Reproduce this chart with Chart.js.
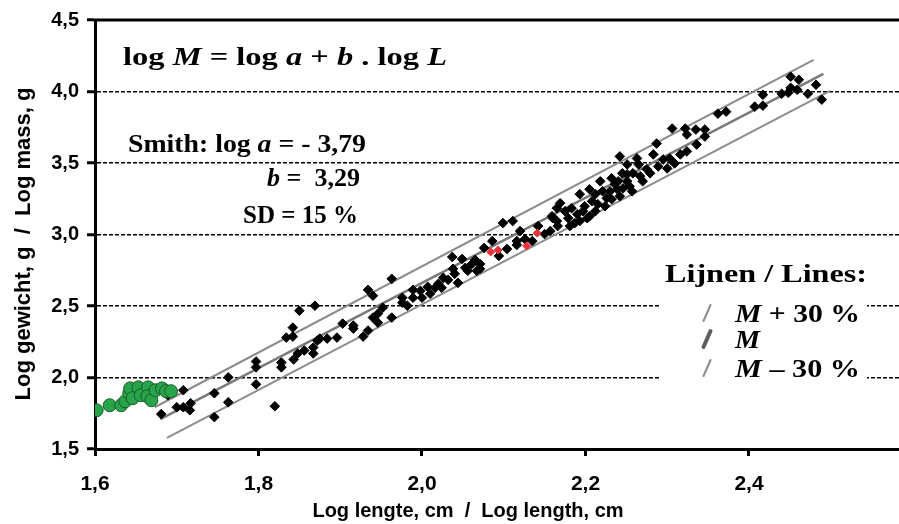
<!DOCTYPE html>
<html>
<head>
<meta charset="utf-8">
<script src="https://cdn.jsdelivr.net/npm/chart.js@4.4.1/dist/chart.umd.min.js"></script>
<style>
  body { margin: 0; background: #fff; }
  #wrap { width: 899px; height: 524px; }
</style>
</head>
<body>
<div id="wrap"><canvas id="chart" width="899" height="524"></canvas></div>
<script>
// log length (cm) / log mass (g)
const fishLength = [1.681,1.689,1.708,1.700,1.708,1.716,1.717,1.746,1.746,1.763,
  1.763,1.797,1.797,1.797,1.820,1.828,1.828,1.834,1.842,1.842,
  1.843,1.850,1.848,1.869,1.856,1.867,1.867,1.872,1.875,1.884,
  1.896,1.903,1.916,1.916,1.928,1.934,1.934,1.940,1.940,1.946,
  1.946,1.952,1.963,1.963,1.976,1.976,1.982,1.989,1.989,2.000,
  2.007,2.016,2.024,2.026,2.032,2.037,2.038,2.040,2.044,2.049,
  2.053,2.056,2.061,2.065,2.067,2.071,2.071,2.086,2.076,2.094,
  2.104,2.099,2.111,2.116,2.116,2.120,2.126,2.135,2.142,2.150,
  2.159,2.165,2.165,2.166,2.169,2.160,2.179,2.183,2.190,2.193,
  2.197,2.202,2.208,2.212,2.215,2.218,2.221,2.226,2.232,2.232,
  2.236,2.242,2.245,2.246,2.251,2.251,2.257,2.258,2.263,2.265,
  2.270,2.275,2.279,2.283,2.287,2.289,2.295,2.300,2.303,2.306,
  2.309,2.316,2.322,2.324,2.324,2.251,2.239,2.193,2.205,2.335,
  2.346,2.346,2.336,2.362,2.372,2.407,2.417,2.417,2.440,2.448,
  2.451,2.451,2.461,2.459,2.472,2.482,2.489,
  2.175,2.187,2.199,2.205,2.224,2.230,2.212,2.242,2.254,2.267,2.157,2.181,2.240,1.998,2.010,2.020];
const fishMass = [1.744,1.876,1.911,1.792,1.792,1.771,1.820,1.890,1.723,2.001,
  1.827,2.112,2.071,1.952,1.799,2.105,2.071,2.279,2.349,2.286,
  2.126,2.467,2.168,2.502,2.189,2.168,2.210,2.259,2.272,2.272,
  2.279,2.377,2.363,2.342,2.286,2.328,2.613,2.572,2.419,2.384,
  2.446,2.488,2.690,2.419,2.558,2.523,2.502,2.613,2.558,2.558,
  2.634,2.627,2.627,2.697,2.683,2.843,2.760,2.725,2.662,2.829,
  2.767,2.746,2.794,2.822,2.746,2.760,2.794,2.954,2.906,2.850,
  2.899,3.080,3.094,2.954,2.927,3.024,2.968,2.954,3.059,3.003,
  3.128,3.094,3.184,3.059,3.219,3.114,3.114,3.184,3.142,3.094,
  3.163,3.114,3.233,3.282,3.212,3.372,3.302,3.254,3.393,3.247,
  3.351,3.546,3.428,3.323,3.372,3.490,3.302,3.428,3.532,3.490,
  3.372,3.456,3.428,3.560,3.636,3.476,3.525,3.462,3.532,3.741,
  3.497,3.560,3.741,3.581,3.699,3.421,3.316,3.282,3.316,3.734,
  3.734,3.685,3.629,3.845,3.859,3.894,3.901,3.977,3.984,3.991,
  4.103,4.026,4.082,4.012,3.984,4.047,3.943,
  3.163,3.080,3.198,3.128,3.198,3.302,3.163,3.268,3.337,3.407,3.024,3.059,3.372,2.606,2.586,2.655];

const juvenileLength = [1.602,1.618,1.632,1.637,1.642,1.643,1.646,1.653,1.656,1.665,1.664,1.669,1.674,1.682,1.687,1.693];
const juvenileMass = [1.771,1.806,1.806,1.834,1.890,1.924,1.855,1.931,1.876,1.931,1.869,1.841,1.911,1.924,1.904,1.904];

const redLength = [2.084,2.093,2.128,2.141];
const redMass = [2.878,2.892,2.920,3.010];

// end points of the three straight lines
const plusLength = [1.673, 2.479];
const plusMass = [1.792, 4.221];
const fitLength = [1.680, 2.491];
const fitMass = [1.709, 4.124];
const minusLength = [1.688, 2.499];
const minusMass = [1.577, 4.005];

const xTicks = [1.6, 1.8, 2.0, 2.2, 2.4];
const yTicks = [1.5, 2.0, 2.5, 3.0, 3.5, 4.0, 4.5];

const SERIF = '"Liberation Serif", "Times New Roman", serif';
const SANS = '"Liberation Sans", Arial, sans-serif';

function toPoints(xs, ys) {
  return xs.map((x, i) => ({ x: x, y: ys[i] }));
}

function comma(v) {
  return v.toFixed(1).replace('.', ',');
}

// draws bold serif text with italic parts, squeezed/stretched to a given width
function drawRich(ctx, parts, left, baseline, size, width) {
  const fontFor = it => `${it ? 'italic ' : ''}bold ${size}px ${SERIF}`;
  let natural = 0;
  parts.forEach(p => { ctx.font = fontFor(p[1]); natural += ctx.measureText(p[0]).width; });
  ctx.save();
  ctx.translate(left, baseline);
  ctx.scale(width / natural, 1);
  ctx.fillStyle = '#000';
  ctx.textAlign = 'left';
  ctx.textBaseline = 'alphabetic';
  let x = 0;
  parts.forEach(p => {
    ctx.font = fontFor(p[1]);
    ctx.fillText(p[0], x, 0);
    x += ctx.measureText(p[0]).width;
  });
  ctx.restore();
}

function slash(ctx, x, y, width, color) {
  ctx.save();
  ctx.strokeStyle = color;
  ctx.lineWidth = width;
  ctx.lineCap = 'round';
  ctx.beginPath();
  ctx.moveTo(x - 3.5, y + 8);
  ctx.lineTo(x + 3.5, y - 8);
  ctx.stroke();
  ctx.restore();
}

const textPlugin = {
  id: 'texts',
  beforeDatasetsDraw(chart) {
    const ctx = chart.ctx;
    // white patch behind the line legend
    ctx.save();
    ctx.fillStyle = '#fff';
    ctx.fillRect(661, 262, 206, 130);
    ctx.restore();
  },
  afterDraw(chart) {
    const ctx = chart.ctx;
    const a = chart.chartArea;

    // top frame line
    ctx.save();
    ctx.strokeStyle = '#000';
    ctx.lineWidth = 3;
    ctx.beginPath();
    ctx.moveTo(a.left - 1.5, a.top);
    ctx.lineTo(a.right, a.top);
    ctx.stroke();
    ctx.restore();

    drawRich(ctx, [['log ', false], ['M', true], [' = log ', false], ['a', true], [' + ', false], ['b', true], [' . log ', false], ['L', true]], 123, 65, 26, 324);
    drawRich(ctx, [['Smith: log ', false], ['a', true], [' = - 3,79', false]], 128, 152, 26, 238);
    drawRich(ctx, [['b', true], [' =  3,29', false]], 267, 186, 26, 93);
    drawRich(ctx, [['SD = 15 %', false]], 243, 223, 26, 115);

    drawRich(ctx, [['Lijnen / Lines:', false]], 665, 282, 26, 202);
    drawRich(ctx, [['M', true], [' + 30 %', false]], 735, 322, 26, 125);
    drawRich(ctx, [['M', true]], 735, 348, 26, 25);
    drawRich(ctx, [['M', true], [' \u2013 30 %', false]], 735, 377, 26, 125);
    slash(ctx, 707, 313, 2, '#8c8c8c');
    slash(ctx, 707, 339, 4, '#5e5e5e');
    slash(ctx, 707, 368, 2, '#8c8c8c');

    // axis titles
    ctx.save();
    ctx.fillStyle = '#000';
    ctx.font = `bold 20px ${SANS}`;
    ctx.textAlign = 'center';
    ctx.textBaseline = 'alphabetic';
    ctx.fillText('Log lengte, cm  /  Log length, cm', 468, 517);
    ctx.translate(30, 244);
    ctx.rotate(-Math.PI / 2);
    ctx.font = `bold 22px ${SANS}`;
    ctx.fillText('Log gewicht, g  /  Log mass, g', 0, 0);
    ctx.restore();
  }
};

function lineSet(xs, ys, width, color) {
  return {
    type: 'line',
    data: toPoints(xs, ys),
    borderColor: color,
    borderWidth: width,
    pointRadius: 0,
    fill: false,
    order: 5
  };
}

const chart = new Chart(document.getElementById('chart').getContext('2d'), {
  type: 'scatter',
  data: {
    datasets: [
      lineSet(plusLength, plusMass, 2, '#8c8c8c'),
      lineSet(fitLength, fitMass, 2.5, '#7a7a7a'),
      lineSet(minusLength, minusMass, 2, '#8c8c8c'),
      {
        data: toPoints(fishLength, fishMass),
        pointStyle: 'rectRot',
        pointRadius: 4.8,
        backgroundColor: '#000',
        borderColor: '#000',
        borderWidth: 1,
        order: 2
      },
      {
        data: toPoints(redLength, redMass),
        pointStyle: 'rectRot',
        pointRadius: 4,
        backgroundColor: '#e8323c',
        borderColor: '#e8323c',
        borderWidth: 1,
        order: 1
      },
      {
        data: toPoints(juvenileLength, juvenileMass),
        pointStyle: 'circle',
        pointRadius: 6.5,
        backgroundColor: '#27a34a',
        borderColor: '#1d5a2c',
        borderWidth: 1,
        order: 0
      }
    ]
  },
  options: {
    responsive: false,
    animation: false,
    devicePixelRatio: 1,
    layout: {
      autoPadding: false,
      padding: { top: 18, left: 0, right: 0, bottom: 0 }
    },
    plugins: {
      legend: { display: false },
      tooltip: { enabled: false }
    },
    scales: {
      x: {
        type: 'linear',
        min: 1.6,
        max: 2.5835,
        afterBuildTicks: (scale) => { scale.ticks = xTicks.map(v => ({ value: v })); },
        afterFit: (scale) => {
          scale.height = 75;
          scale.paddingLeft = 0;
          scale.paddingRight = 0;
        },
        ticks: {
          color: '#000',
          font: { family: SANS, weight: 'bold', size: 21 },
          padding: 16,
          maxRotation: 0,
          autoSkip: false,
          callback: (v) => comma(v)
        },
        grid: {
          drawOnChartArea: false,
          tickColor: '#000',
          tickWidth: 3,
          tickLength: 7
        },
        border: { color: '#000', width: 3 }
      },
      y: {
        type: 'linear',
        min: 1.5,
        max: 4.5,
        afterBuildTicks: (scale) => { scale.ticks = yTicks.map(v => ({ value: v })); },
        afterFit: (scale) => { scale.width = 95; },
        ticks: {
          color: '#000',
          font: { family: SANS, weight: 'bold', size: 20 },
          padding: 8,
          callback: (v) => comma(v)
        },
        grid: {
          color: (c) => (c.tick && (c.tick.value === 1.5 || c.tick.value === 4.5)) ? 'rgba(0,0,0,0)' : '#000',
          lineWidth: 1.5,
          tickColor: '#000',
          tickWidth: 3,
          tickLength: 8
        },
        border: { color: '#000', width: 3, dash: [4, 2] }
      }
    }
  },
  plugins: [textPlugin]
});
</script>
</body>
</html>
